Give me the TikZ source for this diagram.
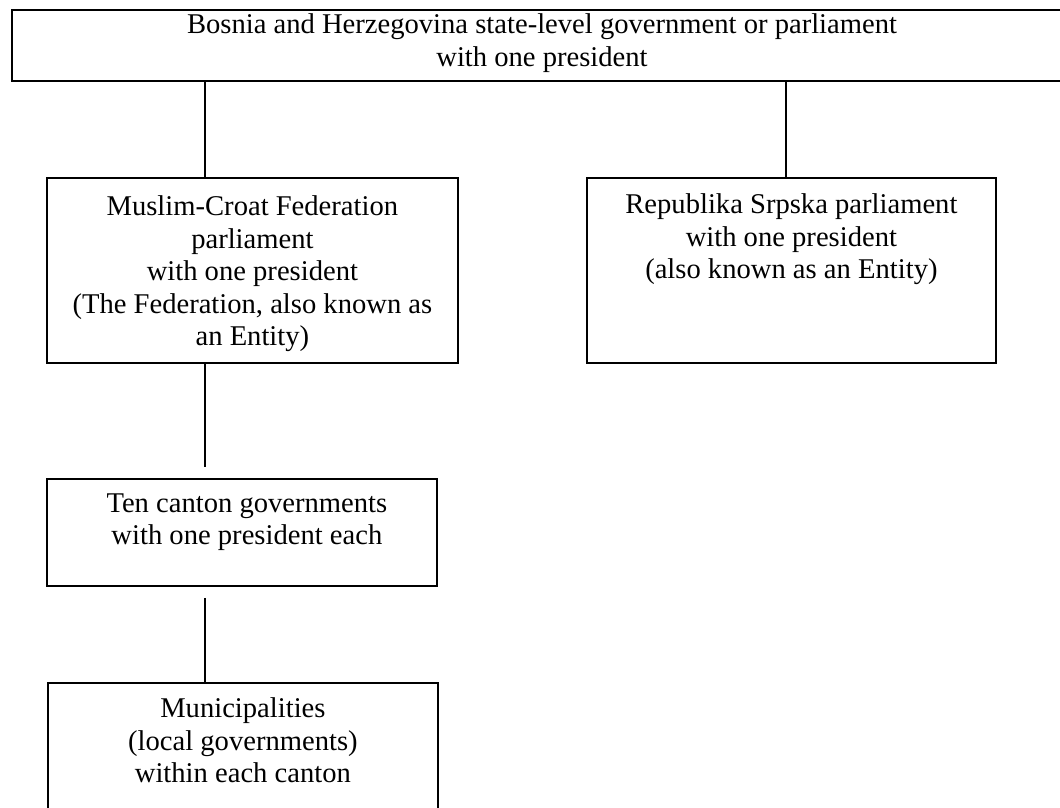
\documentclass[tikz,border=0pt]{standalone}
\usepackage{fontspec}
\setmainfont{Liberation Serif}
\usetikzlibrary{calc}
\tikzset{box/.style={draw,line width=1.8pt,inner sep=0pt,anchor=north west}}
\tikzset{boxtext/.style={align=center,anchor=north,inner sep=0pt}}
\tikzset{link/.style={line width=1.8pt}}

\begin{document}
\begin{tikzpicture}[x=1pt,y=-1pt,font=\fontsize{28.6}{32.5}\selectfont]
  \useasboundingbox[clip] (0,0) rectangle (1060,807);
  % boxes
  \node[box,minimum width=1062,minimum height=71]  (state)  at (11,9)   {};
  \node[box,minimum width=411,minimum height=185]  (fed)    at (46,177)  {};
  \node[box,minimum width=409,minimum height=185]  (srpska) at (586,177) {};
  \node[box,minimum width=390,minimum height=107]  (canton) at (46,478)  {};
  \node[box,minimum width=390,minimum height=160]  (muni)   at (47,682)  {};
  % texts
  \node[boxtext] (statetext) at (542,13.5) {Bosnia and Herzegovina state-level government or parliament\\with one president};
  \node[boxtext] (fedtext) at ($(fed.north)+(0,18.5)$) {Muslim-Croat Federation\\parliament\\with one president\\(The Federation, also known as\\an Entity)};
  \node[boxtext] (srpskatext) at ($(srpska.north)+(0,16.5)$) {Republika Srpska parliament\\with one president\\(also known as an Entity)};
  \node[boxtext] (cantontext) at ($(canton.north)+(5,15.5)$) {Ten canton governments\\with one president each};
  \node[boxtext] (munitext) at ($(muni.north)+(0,15.5)$) {Municipalities\\(local governments)\\within each canton};
  % connectors
  \coordinate (leftx)  at (205,0);
  \coordinate (rightx) at (786,0);
  \draw[link] (state.south -| leftx)  -- (fed.north -| leftx);
  \draw[link] (state.south -| rightx) -- (srpska.north -| rightx);
  \draw[link,shorten >=11pt] (fed.south -| leftx) -- (canton.north -| leftx);
  \draw[link,shorten <=11pt] (canton.south -| leftx) -- (muni.north -| leftx);
\end{tikzpicture}
\end{document}
